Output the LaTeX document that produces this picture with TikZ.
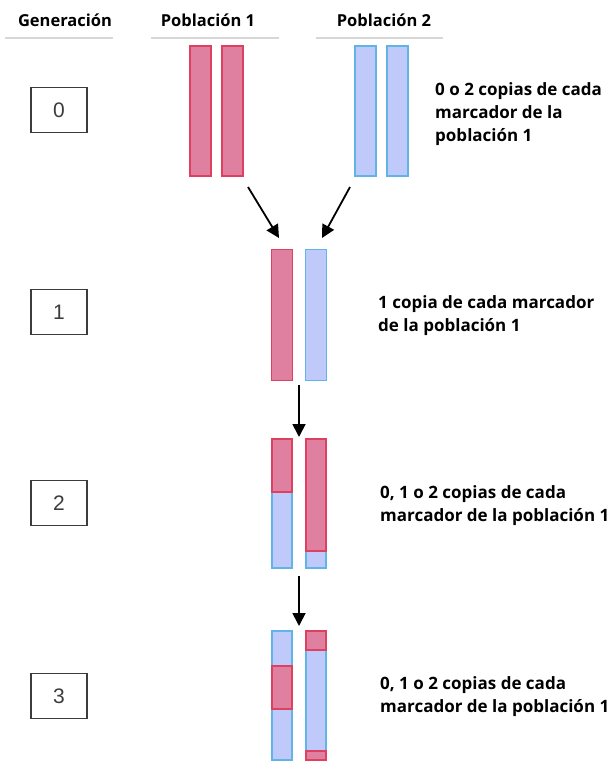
\documentclass[tikz,border=0pt]{standalone}
\usepackage{fontspec}
\setmainfont{Open Sans}
\newfontfamily\numfont{Liberation Sans}
\usetikzlibrary{arrows.meta}

\definecolor{redfill}{RGB}{224,128,160}
\definecolor{redline}{RGB}{222,64,96}
\definecolor{bluefill}{RGB}{192,202,250}
\definecolor{blueline}{RGB}{96,180,232}
\definecolor{rulegray}{RGB}{215,215,215}
\definecolor{boxgray}{RGB}{60,60,60}

\tikzset{
  header/.style={font=\bfseries\fontsize{16.5}{18}\selectfont, inner sep=0pt},
  headrule/.style={draw=rulegray, line width=1.5pt},
  genbox/.style={draw=boxgray, line width=1.3pt, minimum width=56pt, minimum height=45pt,
                 inner sep=0pt, font=\numfont\fontsize{21}{24}\selectfont, text=boxgray},
  note/.style={font=\bfseries\fontsize{17}{23}\selectfont, align=left, anchor=west, inner sep=0pt},
  redseg/.style={fill=redfill, draw=redline, line width=1.2pt},
  blueseg/.style={fill=bluefill, draw=blueline, line width=1.2pt},
  bar/.style={minimum width=20pt, inner sep=0pt, draw=none},
  flow/.style={line width=1.8pt, -{Triangle[length=13pt,width=13pt]}}
}

\begin{document}
\begin{tikzpicture}[x=1pt,y=-1pt]
\useasboundingbox (0,0) rectangle (608,762);

% column headers
\node[header] (hgen) at (65,20) {Generación};
\node[header] (hp1) at (208,20) {Población 1};
\node[header] (hp2) at (384,20) {Población 2};
\draw[headrule] (5,38) -- (113,38);
\draw[headrule] (151,38) -- (279,38);
\draw[headrule] (316,38) -- (443,38);

% generation boxes
\node[genbox] (g0) at (59,110) {0};
\node[genbox] (g1) at (59,312) {1};
\node[genbox] (g2) at (59,503) {2};
\node[genbox] (g3) at (59,696) {3};

% generation 0: parental chromosomes
\draw[redseg] (190,46) rectangle (211,176);
\draw[redseg] (222,46) rectangle (243,176);
\draw[blueseg] (355,46) rectangle (376,176);
\draw[blueseg] (387,46) rectangle (408,176);
\coordinate (a1s) at (248,187);
\coordinate (a2s) at (350,187);
\coordinate (a1e) at (279,238);
\coordinate (a2e) at (322,238);

% generation 1: F1 hybrid
\node[bar, minimum height=130pt] (f1a) at (282,315) {};
\node[bar, minimum height=130pt] (f1b) at (316,315) {};
\draw[redseg] (f1a.north west) rectangle (f1a.south east);
\draw[blueseg] (f1b.north west) rectangle (f1b.south east);
\coordinate (f1bot) at (299,385);

% generation 2
\draw[blueseg] (272,492) rectangle (292,568);
\draw[redseg] (272,439) rectangle (292,492);
\draw[blueseg] (306,551) rectangle (326,568);
\draw[redseg] (306,439) rectangle (326,551);
\coordinate (f2top) at (299,437);
\coordinate (f2bot) at (299,576);

% generation 3
\draw[blueseg] (272,631) rectangle (292,666);
\draw[blueseg] (272,709) rectangle (292,760);
\draw[redseg] (272,666) rectangle (292,709);
\draw[blueseg] (306,650) rectangle (326,751);
\draw[redseg] (306,631) rectangle (326,650);
\draw[redseg] (306,751) rectangle (326,760);
\coordinate (f3top) at (299,626);

% crosses between generations
\draw[flow] (a1s) -- (a1e);
\draw[flow] (a2s) -- (a2e);
\draw[flow] (f1bot) -- (f2top);
\draw[flow] (f2bot) -- (f3top);

% notes
\node[note] (t0) at (435,114) {0 o 2 copias de cada\\marcador de la\\población 1};
\node[note] (t1) at (378,316) {1 copia de cada marcador\\de la población 1};
\node[note] (t2) at (380,505.5) {0, 1 o 2 copias de cada\\marcador de la población 1};
\node[note] (t3) at (380,697) {0, 1 o 2 copias de cada\\marcador de la población 1};
\end{tikzpicture}
\end{document}
